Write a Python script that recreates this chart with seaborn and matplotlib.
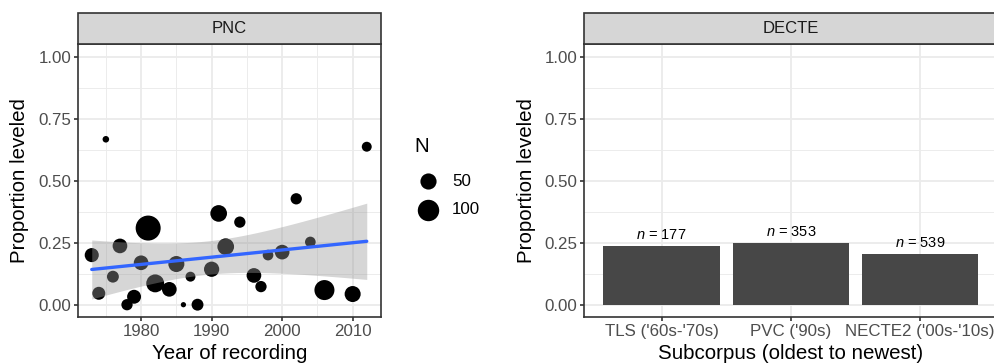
import numpy as np
import pandas as pd
import matplotlib
matplotlib.use("Agg")
import matplotlib.pyplot as plt
from matplotlib.patches import Rectangle
from matplotlib.ticker import FixedLocator
import seaborn as sns

# ---------------- data ----------------
years = [1973, 1974, 1975, 1976, 1977, 1978, 1979, 1980, 1981, 1982, 1984, 1985, 1986, 1987,
         1988, 1990, 1991, 1992, 1994, 1996, 1997, 1998, 2000, 2002, 2004, 2006, 2010, 2012]
prop_leveled = [0.200, 0.046, 0.667, 0.113, 0.237, 0.000, 0.032, 0.169, 0.309, 0.086, 0.062,
                0.164, 0.000, 0.113, 0.000, 0.143, 0.368, 0.234, 0.333, 0.118, 0.073, 0.200,
                0.212, 0.427, 0.253, 0.059, 0.043, 0.637]
n_tokens = [35, 28, 3, 22, 39, 19, 34, 39, 144, 65, 39, 49, 1, 13, 22, 43, 54, 54, 19, 39,
            19, 16, 39, 19, 16, 85, 49, 13]
legend_breaks = [50, 100]

subcorpora = ["TLS ('60s-'70s)", "PVC ('90s)", "NECTE2 ('00s-'10s)"]
subcorpus_prop = [0.237, 0.248, 0.203]
subcorpus_n = [177, 353, 539]

# ---------------- style ----------------
sns.set_theme(style="white")
plt.rcParams['font.family'] = ['Liberation Sans', 'DejaVu Sans']
plt.rcParams['mathtext.fontset'] = 'custom'
plt.rcParams['mathtext.rm'] = 'Liberation Sans'
plt.rcParams['mathtext.it'] = 'Liberation Sans:italic'

W, H = 994, 364
fig = plt.figure(figsize=(W / 100, H / 100), dpi=100)
fig.patch.set_facecolor('white')

def fbox(x0, y0, x1, y1):
    return [x0 / W, (H - y1) / H, (x1 - x0) / W, (y1 - y0) / H]

BORDER = '#333333'
GRID = '#EBEBEB'
TICKC = '#4D4D4D'
LW = 1.2
TICK_FS = 12.2
TITLE_FS = 14.8

def style_axes(ax):
    ax.set_facecolor('white')
    for s in ax.spines.values():
        s.set_visible(True)
        s.set_color(BORDER)
        s.set_linewidth(LW)
    ax.tick_params(axis='both', which='major', length=2.75, width=LW,
                   color=BORDER, labelcolor=TICKC, labelsize=TICK_FS, pad=2.2,
                   bottom=True, left=True)
    ax.tick_params(axis='both', which='minor', length=0)
    ax.set_axisbelow(True)
    ax.grid(True, which='major', color=GRID, linewidth=1.3)
    ax.grid(True, which='minor', color=GRID, linewidth=0.65)

# ---------------- left panel ----------------
ax1 = fig.add_axes(fbox(78, 44.3, 380.5, 317.1))
df = pd.DataFrame({'year': years, 'prop': prop_leveled, 'N': n_tokens})

sq = np.sqrt(np.array(n_tokens, dtype=float))
smin, smax = sq.min(), sq.max()

def size_pts2(n):
    size_mm = 1 + 5 * (np.sqrt(n) - smin) / (smax - smin)
    d = 2.845 * size_mm + 0.94
    return d ** 2

size_map = {n: size_pts2(n) for n in sorted(set(n_tokens))}
sns.scatterplot(data=df, x='year', y='prop', size='N', sizes=size_map, color='black',
                linewidth=0, legend=False, ax=ax1, zorder=2)

# linear fit with 95% CI
x = np.array(years, dtype=float)
y = np.array(prop_leveled, dtype=float)
n = len(x)
xbar = x.mean()
Sxx = ((x - xbar) ** 2).sum()
b = ((x - xbar) * (y - y.mean())).sum() / Sxx
a = y.mean() - b * xbar
resid = y - (a + b * x)
s = np.sqrt((resid ** 2).sum() / (n - 2))
tcrit = 2.0555
xg = np.linspace(x.min(), x.max(), 80)
yg = a + b * xg
se = s * np.sqrt(1 / n + (xg - xbar) ** 2 / Sxx)
ax1.fill_between(xg, yg - tcrit * se, yg + tcrit * se, color='#999999', alpha=0.4,
                 linewidth=0, zorder=3)
sns.lineplot(x=xg, y=yg, color='#3366FF', linewidth=2.4, ax=ax1, zorder=4)

ax1.set_xlim(1971.05, 2013.95)
ax1.set_ylim(-0.05, 1.05)
ax1.xaxis.set_major_locator(FixedLocator([1980, 1990, 2000, 2010]))
ax1.xaxis.set_minor_locator(FixedLocator([1975, 1985, 1995, 2005]))
ax1.yaxis.set_major_locator(FixedLocator([0, 0.25, 0.5, 0.75, 1.0]))
ax1.yaxis.set_minor_locator(FixedLocator([0.125, 0.375, 0.625, 0.875]))
ax1.set_yticklabels(['0.00', '0.25', '0.50', '0.75', '1.00'])
style_axes(ax1)
ax1.set_xlabel('Year of recording', fontsize=TITLE_FS, color='black')
ax1.set_ylabel('Proportion leveled', fontsize=TITLE_FS, color='black')
ax1.xaxis.set_label_coords(0.5, -0.135)
ax1.xaxis.label.set_va('center')
ax1.yaxis.set_label_coords(-0.195, 0.5)
ax1.yaxis.label.set_va('center')

# ---------------- right panel ----------------
ax2 = fig.add_axes(fbox(584, 44.3, 997.8, 317.1))
sns.barplot(x=subcorpora, y=subcorpus_prop, color='#474747', saturation=1, width=0.9,
            linewidth=0, ax=ax2, zorder=2)
for i, (p, nn) in enumerate(zip(subcorpus_prop, subcorpus_n)):
    ax2.text(i, p + 0.046, r'$\it{n}$ = ' + str(nn), ha='center', va='center',
             fontsize=10.5, color='black', zorder=5)
ax2.set_xlim(-0.6, 2.6)
ax2.set_ylim(-0.05, 1.05)
ax2.yaxis.set_major_locator(FixedLocator([0, 0.25, 0.5, 0.75, 1.0]))
ax2.yaxis.set_minor_locator(FixedLocator([0.125, 0.375, 0.625, 0.875]))
ax2.set_yticklabels(['0.00', '0.25', '0.50', '0.75', '1.00'])
style_axes(ax2)
ax2.grid(False, which='minor', axis='x')
ax2.set_xlabel('Subcorpus (oldest to newest)', fontsize=TITLE_FS, color='black')
ax2.set_ylabel('Proportion leveled', fontsize=TITLE_FS, color='black')
ax2.xaxis.set_label_coords(0.5, -0.135)
ax2.xaxis.label.set_va('center')
ax2.yaxis.set_label_coords(-0.138, 0.5)
ax2.yaxis.label.set_va('center')

# ---------------- overlay: strips + legend ----------------
ov = fig.add_axes([0, 0, 1, 1])
ov.set_xlim(0, W)
ov.set_ylim(H, 0)
ov.axis('off')
ov.patch.set_alpha(0)
for (x0, x1, lab) in [(78, 380.5, 'PNC'), (584, 997.8, 'DECTE')]:
    ov.add_patch(Rectangle((x0, 13), x1 - x0, 31.3, facecolor='#D6D6D6', edgecolor=BORDER,
                           linewidth=LW))
    ov.text((x0 + x1) / 2, 28.5, lab, ha='center', va='center', fontsize=12,
            color='#1A1A1A')

ov.text(414, 147, 'N', ha='left', va='center', fontsize=TITLE_FS, color='black')
for yy, br in zip([181, 210], legend_breaks):
    ov.scatter([427.5], [yy], s=size_pts2(br), color='black', linewidth=0)
    ov.text(452, yy, str(br), ha='left', va='center', fontsize=TICK_FS, color='black')

fig.savefig('out.png', dpi=100)
